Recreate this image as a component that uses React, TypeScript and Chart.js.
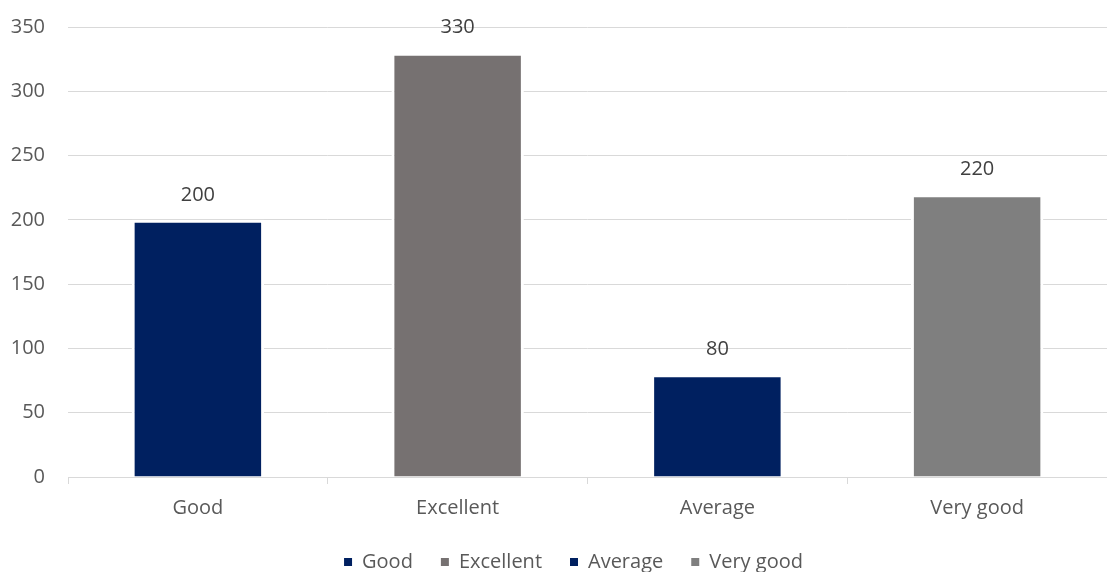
import React, { useEffect, useRef } from "react";
import { Chart, registerables } from "chart.js";

Chart.register(...registerables);

const categories = ["Good", "Excellent", "Average", "Very good"];
const values = [200, 330, 80, 220];
const barColors = ["#002060", "#767171", "#002060", "#7F7F7F"];
const yTicks = [0, 50, 100, 150, 200, 250, 300, 350];

const FONT = "'Open Sans', sans-serif";

const valueLabels = {
  id: "valueLabels",
  afterDatasetsDraw(chart: any) {
    const ctx = chart.ctx;
    const meta = chart.getDatasetMeta(0);
    ctx.save();
    ctx.font = `20px ${FONT}`;
    ctx.fillStyle = "#404040";
    ctx.textAlign = "center";
    ctx.textBaseline = "middle";
    meta.data.forEach((bar: any, i: number) => {
      ctx.fillText(String(values[i]), bar.x, bar.y - 25);
    });
    ctx.restore();
  },
};

const legendShift = {
  id: "legendShift",
  beforeDraw(chart: any) {
    const lg = chart.legend;
    if (lg) {
      lg.left += 20;
      lg.right += 20;
      lg.top += 4;
      lg.bottom += 4;
    }
  },
};

export default function App() {
  const ref = useRef<HTMLCanvasElement>(null);
  useEffect(() => {
    document.body.style.margin = "0";
    const chart = new Chart(ref.current!, {
      type: "bar",
      data: {
        labels: categories,
        datasets: [
          {
            data: values,
            backgroundColor: barColors,
            borderColor: "#FFFFFF",
            borderWidth: 3,
            borderSkipped: "start",
            categoryPercentage: 1,
            barPercentage: 0.51,
          },
        ],
      },
      options: {
        animation: false,
        responsive: false,
        layout: { padding: { top: 27, left: 0, right: 0, bottom: 0 } },
        scales: {
          x: {
            grid: {
              offset: true,
              drawOnChartArea: false,
              drawTicks: true,
              tickLength: 7,
              color: "#D9D9D9",
            },
            border: { display: true, color: "#D9D9D9", width: 1 },
            ticks: {
              padding: 12,
              color: "#595959",
              font: { family: FONT, size: 20 },
            },
            afterFit(scale: any) {
              scale.height = 43;
              scale.paddingLeft = 0;
              scale.paddingRight = 0;
            },
          },
          y: {
            min: 0,
            max: 350,
            afterBuildTicks(scale: any) {
              scale.ticks = yTicks.map((v) => ({ value: v }));
            },
            grid: { color: "#D9D9D9", drawTicks: false, lineWidth: 1 },
            border: { display: false },
            ticks: {
              padding: 23,
              color: "#595959",
              font: { family: FONT, size: 20 },
            },
            afterFit(scale: any) {
              scale.width = 68;
              scale.paddingTop = 0;
              scale.paddingBottom = 0;
            },
          },
        },
        plugins: {
          tooltip: { enabled: false },
          legend: {
            position: "bottom",
            maxHeight: 52,
            labels: {
              boxWidth: 8,
              boxHeight: 8,
              padding: 28,
              color: "#595959",
              font: { family: FONT, size: 20 },
              generateLabels() {
                return categories.map((c, i) => ({
                  text: c,
                  fillStyle: barColors[i],
                  strokeStyle: barColors[i],
                  lineWidth: 0,
                  fontColor: "#595959",
                  hidden: false,
                  index: i,
                  datasetIndex: 0,
                }));
              },
            },
          },
        },
      },
      plugins: [valueLabels, legendShift],
    });
    return () => chart.destroy();
  }, []);
  return (
    <div style={{ width: 1107, height: 572 }}>
      <canvas ref={ref} width={1107} height={572} style={{ display: "block" }} />
    </div>
  );
}
